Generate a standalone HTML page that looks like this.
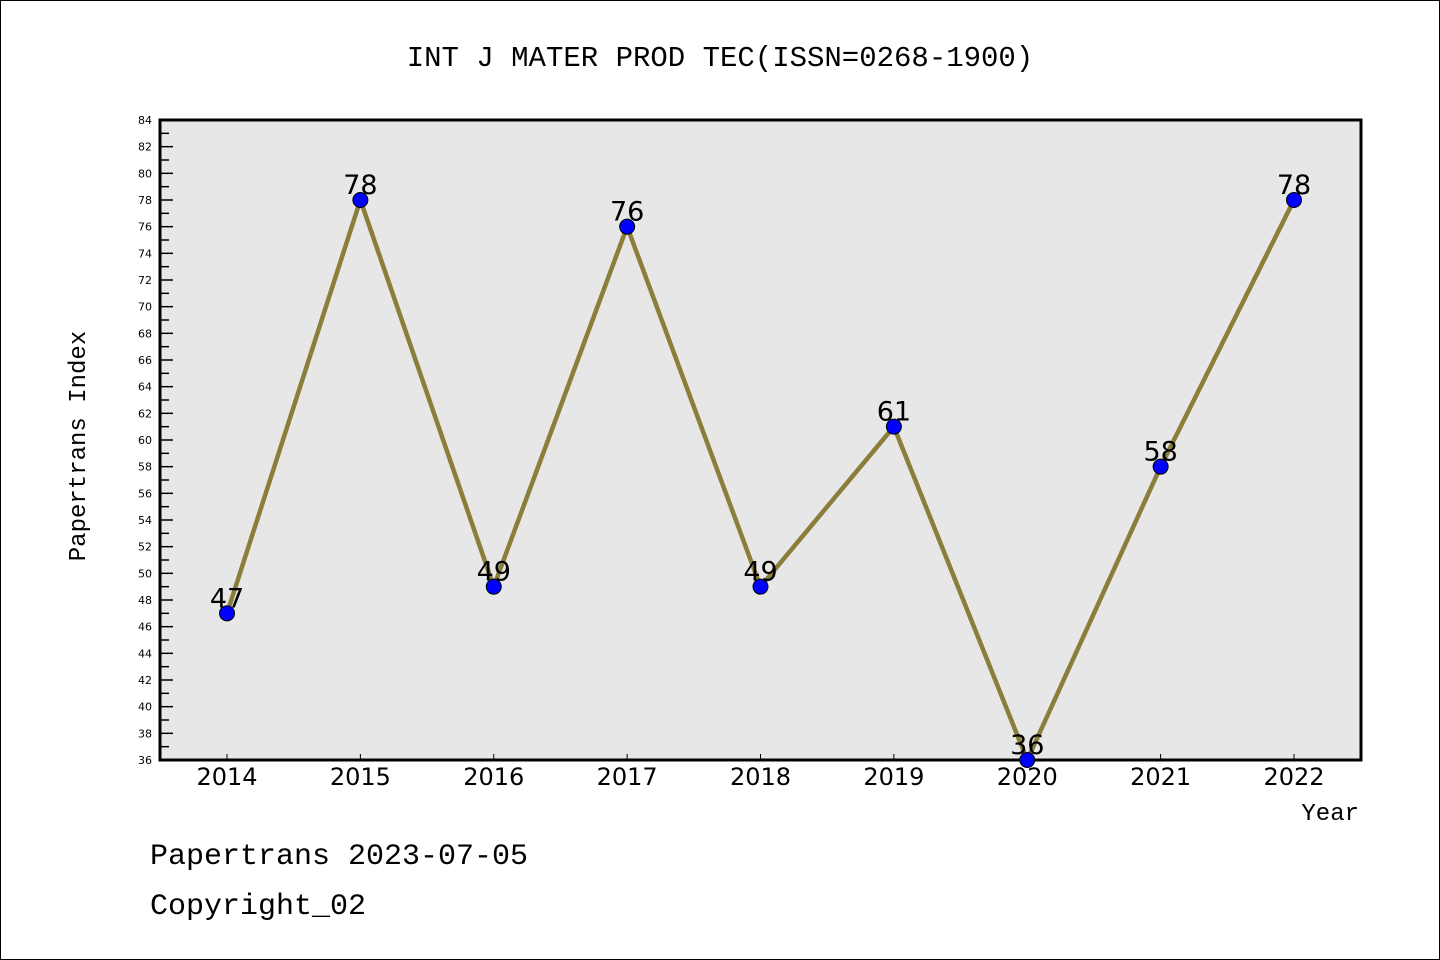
<!DOCTYPE html>
<html><head><meta charset="utf-8"><style>
body{margin:0;background:#fff}
svg{display:block}
.mono{font-family:"Liberation Mono","DejaVu Sans Mono",monospace}
.sans{font-family:"DejaVu Sans","Liberation Sans",sans-serif}
</style></head><body>
<svg id="chart" width="1440" height="960">
<rect x="0.5" y="0.5" width="1439" height="959" fill="#fff" stroke="#000"/>
<text class="mono" x="720" y="66" text-anchor="middle" font-size="29">INT J MATER PROD TEC(ISSN=0268-1900)</text>
<rect x="160" y="120" width="1201" height="640" fill="#e7e7e7" stroke="#000" stroke-width="3"/>
<g id="yaxis"></g><g id="xaxis"></g><g id="series"></g>
<text class="mono" x="85" y="446" text-anchor="middle" font-size="24" transform="rotate(-90 85 446)">Papertrans Index</text>
<text class="mono" x="1359" y="820" text-anchor="end" font-size="24">Year</text>
<text class="mono" x="150" y="864" font-size="30">Papertrans 2023-07-05</text>
<text class="mono" x="150" y="914" font-size="30">Copyright_02</text>
</svg>
<script>
const years=[2014,2015,2016,2017,2018,2019,2020,2021,2022];
const values=[47,78,49,76,49,61,36,58,78];
const yMin=36,yMax=84;
const NS="http://www.w3.org/2000/svg";
function X(i){return 227+i*(1294-227)/(years.length-1);}
function Y(v){return 760-(v-yMin)*(640/(yMax-yMin));}
function mk(tag,attrs,parent){const e=document.createElementNS(NS,tag);for(const k in attrs)e.setAttribute(k,attrs[k]);parent.appendChild(e);return e;}
const ya=document.getElementById('yaxis'),xa=document.getElementById('xaxis'),se=document.getElementById('series');
for(let v=yMin;v<=yMax;v++){
  const major=(v%2===0);
  const t=mk('line',{x1:160,x2:160+(major?13:9),y1:Y(v),y2:Y(v),stroke:'#000','stroke-width':1.5},ya);
  
  
  if(major){const l=mk('text',{class:'sans',x:152,y:Y(v)+4,'text-anchor':'end','font-size':11},ya);l.textContent=v;
  
  }
}
years.forEach((yr,i)=>{
  const t=mk('line',{x1:X(i),x2:X(i),y1:760,y2:754,stroke:'#000','stroke-width':1},xa);
  
  
  const l=mk('text',{class:'sans',x:X(i),y:785,'text-anchor':'middle','font-size':24},xa);l.textContent=yr;
  
  
});
const pl=mk('polyline',{points:values.map((v,i)=>X(i)+','+Y(v)).join(' '),fill:'none',stroke:'#8b7d3a','stroke-width':4.5},se);


values.forEach((v,i)=>{
  const c=mk('circle',{cx:X(i),cy:Y(v),r:7.5,fill:'#0000ff',stroke:'#000','stroke-width':1},se);
  
  
  const l=mk('text',{class:'sans',x:X(i),y:Y(v)-6,'text-anchor':'middle','font-size':27},se);l.textContent=v;
  
  
});
</script>
</body></html>
